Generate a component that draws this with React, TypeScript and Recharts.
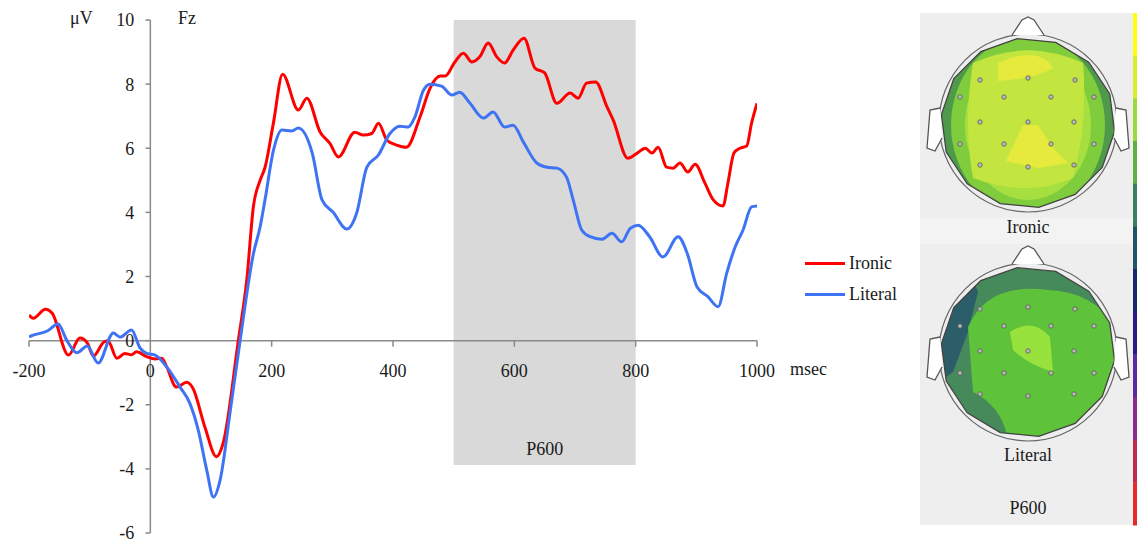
import React from 'react';
import {
  LineChart,
  Line,
  XAxis,
  YAxis,
  ReferenceArea,
  ReferenceLine,
  ReferenceDot,
} from 'recharts';

const ironicTimes = [-200, -193, -173, -162, -135, -116, -104, -94, -77, -70, -55, -42, -31, -23, -6, 8, 19, 27, 43, 60, 70, 90, 109, 120, 145, 159, 170, 181, 189, 203, 218, 244, 258, 280, 296, 310, 337, 351, 365, 376, 390, 406, 422, 445, 461, 478, 486, 502, 516, 530, 543, 557, 571, 584, 598, 616, 634, 650, 670, 692, 705, 719, 734, 753, 763, 787, 802, 816, 827, 837, 851, 862, 873, 886, 898, 914, 928, 944, 952, 962, 972, 983, 991, 1000];
const ironicValues = [0.8, 0.7, 0.98, 0.86, -0.45, 0.08, -0.07, -0.48, -0.05, 0, -0.55, -0.4, -0.44, -0.35, -0.5, -0.57, -0.55, -0.82, -1.45, -1.3, -1.48, -2.7, -3.62, -3.2, 0, 1.9, 4.2, 5.0, 5.4, 6.8, 8.31, 7.19, 7.56, 6.5, 6.15, 5.73, 6.5, 6.41, 6.46, 6.78, 6.25, 6.1, 6.03, 7.0, 7.87, 8.25, 8.25, 8.69, 8.96, 8.69, 8.85, 9.28, 8.85, 8.66, 9.06, 9.43, 8.5, 8.35, 7.4, 7.72, 7.56, 8.03, 8.07, 7.28, 6.88, 5.69, 5.84, 6.0, 5.85, 6.03, 5.41, 5.38, 5.54, 5.26, 5.5, 4.92, 4.39, 4.2, 4.91, 5.85, 6.0, 6.07, 6.78, 7.4];

const literalTimes = [-200, -193, -170, -152, -138, -121, -104, -86, -61, -50, -31, -17, -6, 8, 27, 49, 65, 79, 93, 104, 115, 132, 148, 170, 181, 189, 203, 217, 233, 244, 267, 283, 301, 324, 340, 357, 376, 395, 411, 425, 436, 450, 461, 480, 497, 510, 527, 549, 565, 584, 598, 615, 637, 654, 670, 686, 697, 711, 725, 744, 761, 777, 791, 804, 823, 845, 870, 885, 901, 919, 936, 950, 964, 977, 991, 1000];
const literalValues = [0.12, 0.17, 0.3, 0.52, 0.02, -0.38, -0.17, -0.7, 0.24, 0.11, 0.33, -0.23, -0.4, -0.45, -0.82, -1.45, -1.95, -2.79, -4.04, -4.88, -4.35, -2.16, 0, 2.72, 3.55, 4.39, 5.94, 6.57, 6.54, 6.63, 5.84, 4.39, 4.01, 3.48, 3.97, 5.41, 5.79, 6.46, 6.69, 6.66, 6.97, 7.8, 8.0, 7.94, 7.66, 7.75, 7.4, 6.94, 7.13, 6.66, 6.72, 6.19, 5.54, 5.41, 5.38, 5.1, 4.39, 3.45, 3.24, 3.16, 3.35, 3.08, 3.5, 3.6, 3.24, 2.61, 3.24, 2.72, 1.68, 1.37, 1.06, 2.1, 2.92, 3.45, 4.17, 4.2];

const xTicks = [-200, 0, 200, 400, 600, 800, 1000];
const xTickMarks = [-200, 200, 400, 600, 800, 1000];
const yTicks = [-6, -4, -2, 0, 2, 4, 6, 8, 10];

const seriesNames = ['Ironic', 'Literal'];
const seriesColors = ['#ff0000', '#3e74f4'];

const ironicData = ironicTimes.map((t, i) => ({ t, v: ironicValues[i] }));
const literalData = literalTimes.map((t, i) => ({ t, v: literalValues[i] }));

const FONT = '"Liberation Serif", "Times New Roman", serif';
const AXIS = '#8a8a8a';
const TEXT = '#1a1a1a';

const electrodes = [
  [-48, -43], [0, -45], [47, -43],
  [-68, -26], [-24, -26], [23, -26], [66, -26],
  [-48, -1], [0, -1], [46, -1],
  [-68, 21], [-24, 21], [23, 21], [66, 21],
  [-48, 42], [0, 44], [46, 42],
];

const barColors = ['#ffff10', '#d6ee2e', '#9cd93c', '#5fae48', '#3c7e62', '#225468', '#15286e', '#2a1a86', '#5a2aa0', '#8a2a8a', '#c02a50', '#e52a2a'];

function Head({ cx, cy, id, variant }: { cx: number; cy: number; id: string; variant: 'ironic' | 'literal' }) {
  const r = 89;
  const poly: string[] = [];
  for (let i = 0; i < 14; i++) {
    const a = (i / 14) * Math.PI * 2 + 0.1;
    poly.push(`${cx + Math.cos(a) * (r - 2)},${cy + Math.sin(a) * (r - 4)}`);
  }
  return (
    <g>
      <defs>
        <clipPath id={id}>
          <polygon points={poly.join(' ')} />
        </clipPath>
      </defs>
      <g clipPath={`url(#${id})`}>
        {variant === 'ironic' ? (
          <>
            <rect x={cx - r} y={cy - r} width={2 * r} height={2 * r} fill="#4f9a4a" />
            <ellipse cx={cx} cy={cy + 2} rx={r - 12} ry={r} fill="#7fcc3c" />
            <ellipse cx={cx} cy={cy + 2} rx={r - 26} ry={r - 14} fill="#a6df40" />
            <path d={`M ${cx - 55} ${cy - 60} Q ${cx} ${cy - 85} ${cx + 55} ${cy - 60} Q ${cx + 60} ${cy} ${cx + 45} ${cy + 55} Q ${cx} ${cy + 75} ${cx - 55} ${cy + 55} Q ${cx - 65} ${cy} ${cx - 55} ${cy - 60} Z`} fill="#c2e63f" />
            <path d={`M ${cx - 30} ${cy - 60} Q ${cx + 10} ${cy - 78} ${cx + 25} ${cy - 55} Q ${cx + 10} ${cy - 45} ${cx - 30} ${cy - 42} Z`} fill="#e6ea3c" />
            <path d={`M ${cx - 22} ${cy + 38} L ${cx - 5} ${cy + 2} L ${cx + 10} ${cy + 2} L ${cx + 25} ${cy + 25} L ${cx + 40} ${cy + 40} L ${cx + 10} ${cy + 45} Z`} fill="#e6ea3c" />
          </>
        ) : (
          <>
            <rect x={cx - r} y={cy - r} width={2 * r} height={2 * r} fill="#468a5c" />
            <path d={`M ${cx - r} ${cy - 20} L ${cx - 60} ${cy - 85} L ${cx - 50} ${cy - 60} L ${cx - 60} ${cy - 20} L ${cx - 75} ${cy + 20} L ${cx - r} ${cy + 30} Z`} fill="#2c5e6a" />
            <path d={`M ${cx - 60} ${cy - 25} Q ${cx - 40} ${cy - 70} ${cx + 20} ${cy - 62} Q ${cx + 70} ${cy - 60} ${cx + r} ${cy - 20} L ${cx + r} ${cy + 60} Q ${cx + 40} ${cy + 80} ${cx - 20} ${cy + r} Q ${cx - 25} ${cy + 55} ${cx - 55} ${cy + 40} Z`} fill="#5ec23a" />
            <path d={`M ${cx - 18} ${cy - 20} Q ${cx + 5} ${cy - 35} ${cx + 22} ${cy - 15} L ${cx + 25} ${cy + 20} Q ${cx} ${cy + 12} ${cx - 15} ${cy - 2} Z`} fill="#98e23e" />
          </>
        )}
      </g>
      <polygon points={poly.join(' ')} fill="none" stroke="#444" strokeWidth={1.3} />
      <circle cx={cx} cy={cy} r={r} fill="none" stroke="#666" strokeWidth={1.2} />
      <path d={`M ${cx - 16} ${cy - r + 1} L ${cx - 6} ${cy - r - 14} L ${cx} ${cy - r - 17} L ${cx + 6} ${cy - r - 14} L ${cx + 16} ${cy - r + 1}`} fill="#fff" stroke="#555" strokeWidth={1.3} />
      <path d={`M ${cx - r + 1} ${cy - 15} L ${cx - r - 9} ${cy - 13} L ${cx - r - 12} ${cy + 25} L ${cx - r - 4} ${cy + 28} L ${cx - r + 3} ${cy + 15}`} fill="#fff" stroke="#555" strokeWidth={1.3} />
      <path d={`M ${cx + r - 1} ${cy - 15} L ${cx + r + 9} ${cy - 13} L ${cx + r + 12} ${cy + 25} L ${cx + r + 4} ${cy + 28} L ${cx + r - 3} ${cy + 15}`} fill="#fff" stroke="#555" strokeWidth={1.3} />
      {electrodes.map(([dx, dy], i) => (
        <circle key={i} cx={cx + dx} cy={cy + dy} r={2.2} fill="#bbb" stroke="#555" strokeWidth={0.8} />
      ))}
    </g>
  );
}

function TopoPanel() {
  return (
    <svg width={1137} height={549} style={{ position: 'absolute', left: 0, top: 0, pointerEvents: 'none' }}>
      <rect x={920} y={13} width={213} height={512} fill="#eeeeee" />
      <rect x={920} y={218} width={213} height={26} fill="#f3f3f3" />
      {barColors.map((c, i) => (
        <rect key={i} x={1133} y={13 + (i * 512) / barColors.length} width={4} height={512 / barColors.length + 0.5} fill={c} />
      ))}
      <Head cx={1028} cy={123} id="hIronic" variant="ironic" />
      <Head cx={1028} cy={352} id="hLiteral" variant="literal" />
      <text x={1028} y={233} textAnchor="middle" fontFamily={FONT} fontSize={18} fill={TEXT}>Ironic</text>
      <text x={1028} y={461} textAnchor="middle" fontFamily={FONT} fontSize={18} fill={TEXT}>Literal</text>
      <text x={1028} y={514} textAnchor="middle" fontFamily={FONT} fontSize={18} fill={TEXT}>P600</text>
    </svg>
  );
}

function LegendBox() {
  return (
    <div style={{ position: 'absolute', left: 805, top: 248, fontFamily: FONT, fontSize: 18, color: TEXT }}>
      {seriesNames.map((n, i) => (
        <div key={n} style={{ display: 'flex', alignItems: 'center', height: 31 }}>
          <div style={{ width: 40, height: 3, background: seriesColors[i], marginRight: 4 }} />
          <span>{n}</span>
        </div>
      ))}
    </div>
  );
}

export default function App() {
  return (
    <div style={{ position: 'absolute', left: 0, top: 0, width: 1137, height: 549, background: '#fff', overflow: 'hidden' }}>
      <LineChart width={1137} height={549} margin={{ top: 20, right: 380, bottom: 16, left: 29 }}>
        <XAxis type="number" dataKey="t" domain={[-200, 1000]} hide allowDataOverflow />
        <YAxis type="number" dataKey="v" domain={[-6, 10]} hide allowDataOverflow />
        <ReferenceArea
          x1={500}
          x2={800}
          y1={-3.88}
          y2={10}
          fill="#d9d9d9"
          fillOpacity={1}
          stroke="none"
          label={{ value: 'P600', position: 'insideBottom', offset: 10, fontFamily: FONT, fontSize: 18, fill: TEXT }}
        />
        <ReferenceLine segment={[{ x: 0, y: -6 }, { x: 0, y: 10 }]} stroke={AXIS} strokeWidth={1.5} />
        <ReferenceLine segment={[{ x: -200, y: 0 }, { x: 1000, y: 0 }]} stroke={AXIS} strokeWidth={1.5} />
        {yTicks.map((v) => (
          <ReferenceLine key={'yt' + v} segment={[{ x: -8, y: v }, { x: 0, y: v }]} stroke={AXIS} strokeWidth={1.5} />
        ))}
        {xTickMarks.map((t) => (
          <ReferenceLine key={'xt' + t} segment={[{ x: t, y: 0 }, { x: t, y: -0.19 }]} stroke={AXIS} strokeWidth={1.5} />
        ))}
        {yTicks.map((v) => (
          <ReferenceDot
            key={'yl' + v}
            x={0}
            y={v}
            r={0}
            fill="none"
            stroke="none"
            label={{ value: String(v), position: 'left', offset: 16, fontFamily: FONT, fontSize: 18, fill: TEXT }}
          />
        ))}
        {xTicks.map((t) => (
          <ReferenceDot
            key={'xl' + t}
            x={t}
            y={0}
            r={0}
            fill="none"
            stroke="none"
            label={{ value: String(t), position: 'bottom', offset: 24, fontFamily: FONT, fontSize: 18, fill: TEXT }}
          />
        ))}
        <Line data={ironicData} dataKey="v" name="Ironic" type="monotone" stroke={seriesColors[0]} strokeWidth={3} dot={false} isAnimationActive={false} />
        <Line data={literalData} dataKey="v" name="Literal" type="monotone" stroke={seriesColors[1]} strokeWidth={3} dot={false} isAnimationActive={false} />
      </LineChart>
      <LegendBox />
      <div style={{ position: 'absolute', left: 70, top: 8, fontFamily: FONT, fontSize: 18, color: TEXT }}>μV</div>
      <div style={{ position: 'absolute', left: 178, top: 8, fontFamily: FONT, fontSize: 18, color: TEXT }}>Fz</div>
      <div style={{ position: 'absolute', left: 790, top: 359, fontFamily: FONT, fontSize: 18, color: TEXT }}>msec</div>
      <TopoPanel />
    </div>
  );
}
